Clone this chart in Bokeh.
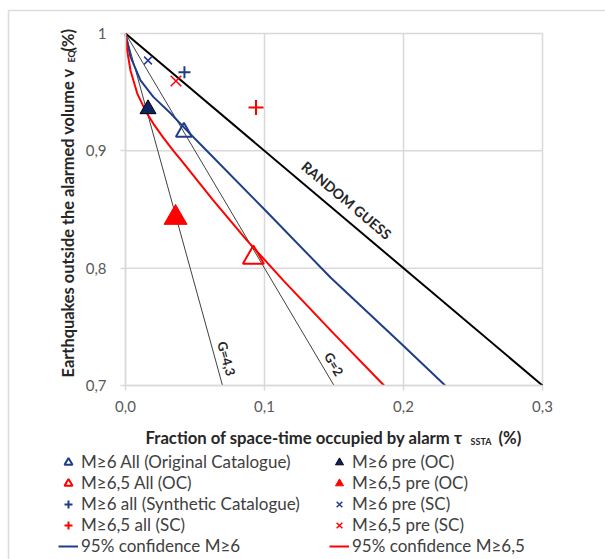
import math
from bokeh.plotting import figure
from bokeh.models import (Range1d, FixedTicker, Label, Legend, LegendItem, BoxAnnotation,
                          LinearAxis, CustomJSTickFormatter)
from bokeh.core.properties import value
from bokeh.embed import file_html
from bokeh.resources import INLINE

# ---------------- data ----------------
x_ticks = [0.0, 0.1, 0.2, 0.3]
x_tick_labels = ["0,0", "0,1", "0,2", "0,3"]
y_ticks = [0.7, 0.8, 0.9, 1.0]
y_tick_labels = ["0,7", "0,8", "0,9", "1"]

random_x = [0.0, 0.3]
random_y = [1.0, 0.7]
g43_x = [0.0, 0.0698]
g43_y = [1.0, 0.7]
g2_x = [0.0, 0.15]
g2_y = [1.0, 0.7]

conf6_x = [0.0, 0.0036, 0.0108, 0.020, 0.0324, 0.0444, 0.056, 0.100, 0.1475, 0.198, 0.230]
conf6_y = [1.0, 0.980, 0.960, 0.946, 0.932, 0.917, 0.903, 0.850, 0.792, 0.736, 0.700]
conf65_x = [0.0, 0.0012, 0.0036, 0.0084, 0.0144, 0.0201, 0.0273, 0.0345, 0.040, 0.063, 0.0875, 0.114, 0.150, 0.186]
conf65_y = [1.0, 0.9855, 0.9685, 0.949, 0.934, 0.923, 0.911, 0.900, 0.892, 0.858, 0.8235, 0.789, 0.744, 0.700]

m6_all_oc = (0.042, 0.916)
m6_pre_oc = (0.0162, 0.9356)
m65_all_oc = (0.092, 0.809)
m65_pre_oc = (0.036, 0.843)
m6_all_sc = (0.0424, 0.967)
m6_pre_sc = (0.0162, 0.977)
m65_all_sc = (0.0939, 0.937)
m65_pre_sc = (0.0363, 0.9595)

BLUE = "#1f3d8a"
NAVY = "#0b2463"
RED = "#ff0000"
GRID = "#d9d9d9"
FONT = "Lato"

W, H = 605, 559
# the frame covers the whole canvas; the data area (0..0.3, 0.7..1) sits inside it
p = figure(width=W, height=H, output_backend="svg", toolbar_location=None,
           x_range=Range1d(-0.08993, 0.34532), y_range=Range1d(0.551705, 1.028125),
           x_axis_location=None, y_axis_location=None, min_border=0)
p.outline_line_color = None
p.background_fill_color = "white"
p.border_fill_color = "white"
p.grid.visible = False

# grid lines from the tick arrays
p.segment(x0=x_ticks, y0=[y_ticks[0]] * len(x_ticks), x1=x_ticks, y1=[y_ticks[-1]] * len(x_ticks),
          line_color=GRID, line_width=1.5)
p.segment(x0=[x_ticks[0]] * len(y_ticks), y0=y_ticks, x1=[x_ticks[-1]] * len(y_ticks), y1=y_ticks,
          line_color=GRID, line_width=1.5)

fmt_code = """
const i = tvals.findIndex(t => Math.abs(t - tick) < 1e-9);
return i >= 0 ? tlabels[i] : '';
"""
xa = LinearAxis(fixed_location=y_ticks[0], bounds=(x_ticks[0], x_ticks[-1]),
                ticker=FixedTicker(ticks=x_ticks),
                formatter=CustomJSTickFormatter(args=dict(tvals=x_ticks, tlabels=x_tick_labels), code=fmt_code))
ya = LinearAxis(fixed_location=x_ticks[0], bounds=(y_ticks[0], y_ticks[-1]),
                ticker=FixedTicker(ticks=y_ticks),
                formatter=CustomJSTickFormatter(args=dict(tvals=y_ticks, tlabels=y_tick_labels), code=fmt_code))
for ax in (xa, ya):
    ax.axis_line_color = GRID
    ax.axis_line_width = 1.5
    ax.major_tick_line_color = GRID
    ax.major_tick_line_width = 1.5
    ax.major_tick_out = 5
    ax.major_tick_in = 0
    ax.minor_tick_line_color = None
    ax.major_label_text_font = FONT
    ax.major_label_text_font_size = "15px"
    ax.major_label_text_color = "#595959"
ya.major_label_standoff = 14
xa.major_label_standoff = 10
p.add_layout(xa, "below")
p.add_layout(ya, "left")

# lines
p.line(random_x, random_y, line_color="black", line_width=2)
p.line(g43_x, g43_y, line_color="#404040", line_width=1)
p.line(g2_x, g2_y, line_color="#404040", line_width=1)
r_c6 = p.line(conf6_x, conf6_y, line_color=BLUE, line_width=2)
r_c65 = p.line(conf65_x, conf65_y, line_color=RED, line_width=2)

# markers
r1 = p.scatter([m6_all_oc[0]], [m6_all_oc[1]], marker="triangle", size=16, fill_color="white",
               fill_alpha=0, line_color=BLUE, line_width=2)
r2 = p.scatter([m6_pre_oc[0]], [m6_pre_oc[1]], marker="triangle", size=16, fill_color=NAVY,
               line_color="black", line_width=1)
r3 = p.scatter([m65_all_oc[0]], [m65_all_oc[1]], marker="triangle", size=21, fill_color="white",
               fill_alpha=0, line_color=RED, line_width=2)
r4 = p.scatter([m65_pre_oc[0]], [m65_pre_oc[1]], marker="triangle", size=23, fill_color=RED,
               line_color=RED, line_width=1)
r5 = p.scatter([m6_all_sc[0]], [m6_all_sc[1]], marker="cross", size=12, line_color=BLUE, line_width=2)
r6 = p.scatter([m6_pre_sc[0]], [m6_pre_sc[1]], marker="x", size=11, line_color=BLUE, line_width=1.5)
r7 = p.scatter([m65_all_sc[0]], [m65_all_sc[1]], marker="cross", size=15, line_color=RED, line_width=2)
r8 = p.scatter([m65_pre_sc[0]], [m65_pre_sc[1]], marker="x", size=15, line_color=RED, line_width=1.5)

# in-plot texts
p.text(x=[0.159], y=[0.858], text=["RANDOM GUESS"], angle=-0.7016, text_align="center",
       text_baseline="middle", text_font=value(FONT), text_font_style="bold",
       text_font_size="14px", text_color="#262626")
p.text(x=[0.0727], y=[0.723], text=["G=4,3"], angle=-1.30, text_align="center",
       text_baseline="middle", text_font=value(FONT), text_font_style="bold",
       text_font_size="13px", text_color="#262626")
p.text(x=[0.150], y=[0.7183], text=["G=2"], angle=-1.037, text_align="center",
       text_baseline="middle", text_font=value(FONT), text_font_style="bold",
       text_font_size="13px", text_color="#262626")

# axis titles (with subscripts), anchored at the data corner (0, 0.7)
def lab(text, xo, yo, size, angle=0.0):
    p.add_layout(Label(x=x_ticks[0], y=y_ticks[0], x_offset=xo, y_offset=yo, text=text, angle=angle,
                       text_align="left", text_baseline="middle", text_font=FONT,
                       text_font_style="bold", text_font_size=size, text_color="#262626"))

lab("Fraction of space-time occupied by alarm \u03c4", 20, -52, "16.7px")
lab("SSTA", 345, -56, "9px")
lab("(%)", 373, -52, "16.7px")

lab("Earthquakes outside the alarmed volume  v", -58, 8, "16.4px", angle=math.pi / 2)
lab("EQ", -54, 323, "9px", angle=math.pi / 2)
lab("(%)", -58, 334, "16.4px", angle=math.pi / 2)

# frame of the whole picture (top and left edges visible)
p.add_layout(BoxAnnotation(left=8, right=W + 40, top=10, bottom=H + 40,
                           left_units="canvas", right_units="canvas",
                           top_units="canvas", bottom_units="canvas",
                           fill_alpha=0, line_color="#8a8a8a", line_width=1.5))

# legends
items1 = [LegendItem(label="M\u22656 All (Original Catalogue)", renderers=[r1]),
          LegendItem(label="M\u22656,5 All (OC)", renderers=[r3]),
          LegendItem(label="M\u22656 all (Synthetic Catalogue)", renderers=[r5]),
          LegendItem(label="M\u22656,5 all (SC)", renderers=[r7]),
          LegendItem(label="95% confidence M\u22656", renderers=[r_c6])]
items2 = [LegendItem(label="M\u22656 pre (OC)", renderers=[r2]),
          LegendItem(label="M\u22656,5 pre (OC)", renderers=[r4]),
          LegendItem(label="M\u22656 pre (SC)", renderers=[r6]),
          LegendItem(label="M\u22656,5 pre (SC)", renderers=[r8]),
          LegendItem(label="95% confidence M\u22656,5", renderers=[r_c65])]
for items, loc in ((items1, (58, 3)), (items2, (329, 3))):
    lg = Legend(items=items, location=loc, glyph_width=20, glyph_height=20, spacing=0,
                padding=0, margin=0, label_standoff=3, border_line_color=None,
                background_fill_alpha=0, label_text_font=FONT, label_text_font_size="17px",
                label_text_color="#404040", label_height=20)
    p.add_layout(lg)

open("out.html", "w").write(file_html(p, INLINE))
